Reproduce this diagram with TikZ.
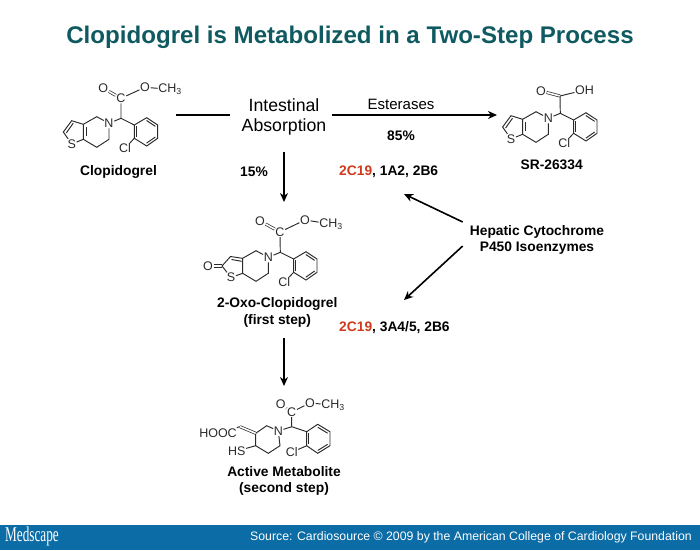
\documentclass[tikz,border=0pt]{standalone}
\usepackage{fontspec}
\setmainfont{Liberation Sans}
\newfontfamily\logofont{Liberation Serif}
\usetikzlibrary{arrows.meta, positioning, calc}
\definecolor{titleteal}{HTML}{0F5A60}
\definecolor{bannerblue}{HTML}{0B6CA6}
\definecolor{isored}{HTML}{CF3A1C}
\definecolor{bondgray}{HTML}{2A2A2A}
\tikzset{
    bond/.style={line width=0.95pt, draw=bondgray},
    dbond/.style={draw=bondgray, line width=0.7pt, double, double distance=1.6pt},
    atom/.style={font=\fontsize{12.5}{13}\selectfont, text=bondgray, inner sep=0.5pt},
    lbl/.style={font=\fontsize{13.8}{16.5}\selectfont\bfseries, align=center, inner sep=0pt},
    flow/.style={-{Stealth[length=9pt,width=8pt]}, line width=1.6pt},
    plainline/.style={line width=1.8pt},
    pics/corering/.style={code={
        \node[atom] (-n) at (0,0) {N};
        \coordinate (-r1) at (-12.3,-6.6);
        \coordinate (-f1) at (-25.7,1);
        \coordinate (-f2) at (-25.7,16);
        \coordinate (-r4) at (-12.3,24);
        \coordinate (-r5) at (0,16);
        \coordinate (-ch) at (12,-5);
        \coordinate (-b1) at (25.3,1.7);
        \coordinate (-b2) at (37.7,-5.6);
        \coordinate (-b3) at (48.7,1.7);
        \coordinate (-b4) at (48.7,15);
        \coordinate (-b5) at (37.7,22.7);
        \coordinate (-b6) at (25.3,15);
        \coordinate (-bc) at (37,8.5);
        \node[atom] (-cl) at (16,25) {Cl};
        \draw[bond] (-n) -- (-r1) -- (-f1) -- (-f2) -- (-r4) -- (-r5) -- (-n);
        \draw[bond] (-n) -- (-ch) -- (-b1) -- (-b2) -- (-b3) -- (-b4) -- (-b5) -- (-b6) -- (-b1);
        \draw[bond] (-b6) -- (-cl);
        \draw[bond] ($(-b2)!.2!(-bc)$) -- ($(-b3)!.2!(-bc)$);
        \draw[bond] ($(-b4)!.2!(-bc)$) -- ($(-b5)!.2!(-bc)$);
        \draw[bond] ($(-b6)!.2!(-bc)$) -- ($(-b1)!.2!(-bc)$);
    }}
}
\begin{document}
\begin{tikzpicture}[x=1pt, y=-1pt]
    \useasboundingbox (0,0) rectangle (700,550);

    % title and banner
    \node[font=\fontsize{24.1}{28}\selectfont\bfseries, text=titleteal] (title) at (350,37) {Clopidogrel is Metabolized in a Two-Step Process};
    \fill[bannerblue] (0,525) rectangle (700,550);
    \node[font=\fontsize{21}{22}\selectfont\logofont, text=white, xscale=.63, inner sep=0pt, anchor=west] (logo) at (5,536.5) {Medscape};
    \node[font=\fontsize{12.3}{15}\selectfont, text=white, anchor=east, inner sep=0pt] (source) at (692,537) {Source: Cardiosource © 2009 by the American College of Cardiology Foundation};

    % clopidogrel
    \pic (cp) at (109,123.3) {corering};
    \node[atom] (cpc) at (121,98.3) {C};
    \node[atom] (cpo) at (103.3,88.3) {O};
    \node[atom] (cpe) at (145,87.3) {O};
    \node[atom] (cpm) at (170,89.3) {CH\textsubscript{3}};
    \node[atom] (cps) at (71.7,144) {S};
    \coordinate (cpt1) at (71.7,120.7);
    \coordinate (cpt2) at (63.3,132);
    \draw[dbond] (cpc) -- (cpo);
    \draw[bond] (cp-ch) -- (cpc) -- (cpe) -- (cpm);
    \draw[bond] (cp-f1) -- (cpt1) -- (cpt2) -- (cps) -- (cp-f2);
    \draw[bond] ($(cpt1)+(1.5,2.5)$) -- ($(cpt2)+(3,1)$);
    \draw[bond] ($(cp-f1)+(3,3)$) -- ($(cp-f2)+(3,-3)$);
    \node[lbl] (cplabel) at (118.5,171.5) {Clopidogrel};

    % sr-26334
    \pic (sr) at (548.3,118.3) {corering};
    \coordinate (src) at (560,96);
    \node[atom] (sro) at (541,91) {O};
    \node[atom] (srh) at (584.5,90) {OH};
    \node[atom] (srs) at (511,139) {S};
    \coordinate (srt1) at (511,115.7);
    \coordinate (srt2) at (502.6,127);
    \draw[dbond] (src) -- (sro);
    \draw[bond] (sr-ch) -- (src) -- (srh);
    \draw[bond] (sr-f1) -- (srt1) -- (srt2) -- (srs) -- (sr-f2);
    \draw[bond] ($(srt1)+(1.5,2.5)$) -- ($(srt2)+(3,1)$);
    \draw[bond] ($(sr-f1)+(3,3)$) -- ($(sr-f2)+(3,-3)$);
    \node[lbl] (srlabel) at (551.7,165) {SR-26334};

    % 2-oxo-clopidogrel
    \pic (ox) at (268.3,257.3) {corering};
    \node[atom] (oxc) at (280,232) {C};
    \node[atom] (oxo) at (260,221) {O};
    \node[atom] (oxe) at (305,220) {O};
    \node[atom] (oxm) at (331,224) {CH\textsubscript{3}};
    \node[atom] (oxs) at (231,277.5) {S};
    \node[atom] (oxk) at (208,266) {O};
    \coordinate (oxt1) at (230.5,256.5);
    \coordinate (oxt2) at (222,266);
    \draw[dbond] (oxc) -- (oxo);
    \draw[bond] (ox-ch) -- (oxc) -- (oxe) -- (oxm);
    \draw[bond] (ox-f1) -- (oxt1) -- (oxt2) -- (oxs) -- (ox-f2);
    \draw[bond] ($(oxk.east)+(0,-1.3)$) -- ($(oxt2)+(0,-1.3)$);
    \draw[bond] ($(oxk.east)+(0,1.3)$) -- ($(oxt2)+(0,1.3)$);
    \draw[bond] ($(oxt1)+(1,3)$) -- ($(ox-f1)+(-1,3)$);
    \node[lbl] (oxlabel) at (277.3,312.5) {2-Oxo-Clopidogrel\\(first step)};

    % active metabolite
    \node[atom] (amn) at (278.3,431) {N};
    \coordinate (am1) at (266.7,425.7);
    \coordinate (am2) at (255.7,433.3);
    \coordinate (am3) at (255.7,445.7);
    \coordinate (am4) at (268.3,453.3);
    \coordinate (am5) at (280,445.7);
    \coordinate (amv) at (240,426.7);
    \node[atom] (amh) at (218,432.7) {HOOC};
    \node[atom] (ams) at (236.7,451) {HS};
    \coordinate (amch) at (291.7,426.7);
    \node[atom] (amc) at (291.7,412) {C};
    \node[atom] (amo) at (280.7,404.3) {O};
    \node[atom] (ame) at (310,403) {O};
    \node[atom] (amm) at (333,405) {CH\textsubscript{3}};
    \coordinate (amb1) at (306.7,431.7);
    \coordinate (amb2) at (317.7,424.3);
    \coordinate (amb3) at (330,431.7);
    \coordinate (amb4) at (330,445.7);
    \coordinate (amb5) at (317.7,453.3);
    \coordinate (amb6) at (306.7,445.7);
    \coordinate (ambc) at (318,439);
    \node[atom] (amcl) at (291.7,452.3) {Cl};
    \draw[bond] (amn) -- (am1) -- (am2) -- (am3) -- (am4) -- (am5) -- (amn);
    \draw[dbond] (am2) -- (amv);
    \draw[bond] (amv) -- (amh);
    \draw[bond] (am3) -- (ams);
    \draw[bond] (amn) -- (amch) -- (amb1) -- (amb2) -- (amb3) -- (amb4) -- (amb5) -- (amb6) -- (amb1);
    \draw[bond] (amb6) -- (amcl);
    \draw[bond] (amch) -- (amc) -- (ame) -- (amm);
    \draw[dbond] (amc) -- (amo);
    \draw[bond] ($(amb2)!.2!(ambc)$) -- ($(amb3)!.2!(ambc)$);
    \draw[bond] ($(amb4)!.2!(ambc)$) -- ($(amb5)!.2!(ambc)$);
    \draw[bond] ($(amb6)!.2!(ambc)$) -- ($(amb1)!.2!(ambc)$);
    \node[lbl] (amlabel) at (284,481) {Active Metabolite\\(second step)};

    % pathway
    \node[font=\fontsize{17.7}{20}\selectfont, align=center, inner sep=0pt] (absorb) at (284,116.5) {Intestinal\\Absorption};
    \node[font=\fontsize{15}{15}\selectfont, inner sep=0pt] (ester) at (401,104.5) {Esterases};
    \node[lbl] (pct85) at (401,136) {85\%};
    \node[lbl] (pct15) at (254,172) {15\%};
    \node[lbl, anchor=west] (isotop) at (339,172) {\textcolor{isored}{2C19}, 1A2, 2B6};
    \node[lbl, anchor=west] (isobot) at (339,328) {\textcolor{isored}{2C19}, 3A4/5, 2B6};
    \node[lbl] (hepatic) at (537,240) {Hepatic Cytochrome\\P450 Isoenzymes};

    \coordinate (cpend) at (176,115);
    \coordinate (srend) at (497,115);
    \coordinate (oxtop) at (284,202);
    \coordinate (amtop) at (284,386);
    \coordinate (hepup) at (404,194);
    \coordinate (hepdn) at (404,300);

    \draw[plainline] (cpend) -- ([xshift=-11pt]absorb.west |- cpend);
    \draw[flow] ([xshift=5pt]absorb.east |- srend) -- (srend);
    \draw[flow] ([yshift=-17pt]absorb.south) -- (oxtop);
    \draw[flow] (oxlabel.south -| amtop) ++(0,10.5) -- (amtop);
    \draw[flow] ([shift={(-7pt,18pt)}]hepatic.west) -- (hepup);
    \draw[flow] ([shift={(-7pt,-6pt)}]hepatic.west) -- (hepdn);
\end{tikzpicture}
\end{document}
